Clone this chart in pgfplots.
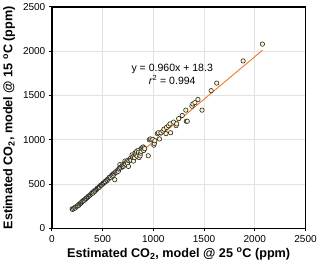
\documentclass[border=0pt]{standalone}
\usepackage{pgfplots}
\pgfplotsset{compat=1.18}
\usepackage{fontspec}
\setmainfont{Liberation Sans}
\definecolor{fitorange}{HTML}{F07828}
\definecolor{markfill}{HTML}{FFF6C6}
\definecolor{gridgray}{HTML}{E2E2E2}
\begin{document}
\begin{tikzpicture}
\begin{axis}[
  scale only axis,
  width=253pt, height=221pt,
  xmin=0, xmax=2500, ymin=0, ymax=2500,
  xtick={0,500,...,2500}, ytick={0,500,...,2500},
  /pgf/number format/assume math mode=true,
  /pgf/number format/set thousands separator={},
  ticklabel style={font=\fontsize{10}{12}\selectfont},
  tick align=outside, tick pos=left,
  major tick length=3pt,
  tick style={black, line width=0.8pt},
  grid=major,
  major grid style={gridgray, line width=0.8pt},
  axis line style={black, line width=1.3pt},
  xlabel={\textbf{Estimated CO\textsubscript{2}, model @ 25 \textsuperscript{o}C (ppm)}},
  ylabel={\textbf{Estimated CO\textsubscript{2}, model @ 15 \textsuperscript{o}C (ppm)}},
  label style={font=\fontsize{12.6}{15}\selectfont},
  xlabel style={yshift=1pt},
  ylabel style={yshift=1pt},
]
\addplot[only marks, mark=*, mark size=2.2pt, mark options={draw=black!85, fill=markfill, line width=0.6pt}] coordinates {
(200,220)(205,215)(215,225)(225,235)(230,232)(240,245)(250,252)(255,258)(265,262)(270,275)
(280,282)(285,285)(290,290)(295,300)(300,305)(310,312)(315,320)(320,318)(330,330)(335,338)
(340,340)(350,350)(355,358)(360,362)(370,370)(375,378)(380,380)(390,392)(395,400)(400,405)
(405,400)(410,412)(420,425)(425,420)(430,432)(440,440)(445,450)(450,455)(460,460)(465,470)
(470,468)(480,485)(485,490)(490,492)(500,500)(505,510)(510,515)(520,520)(525,530)(530,528)
(540,545)(545,540)(550,555)(560,560)(565,575)(570,580)(580,578)(590,600)(595,590)(600,610)
(605,600)(610,620)(615,615)(620,550)(625,630)(630,640)(640,635)(645,650)(650,660)(655,645)
(660,670)(665,680)(670,720)(675,690)(680,685)(690,700)(695,710)(700,720)(705,700)(710,715)
(715,730)(720,760)(725,740)(730,725)(740,750)(745,735)(750,770)(755,700)(760,765)(770,780)
(775,790)(780,770)(790,830)(795,800)(800,810)(805,760)(810,820)(815,800)(820,850)(825,830)
(830,840)(835,870)(840,815)(850,880)(855,860)(860,800)(870,820)(875,850)(880,870)(885,910)
(890,900)(900,920)(905,880)(910,910)(915,900)(950,820)(960,1000)(970,1010)(985,1000)(995,1005)
(1005,940)(1010,960)(1015,990)(1040,1070)(1050,1080)(1060,1010)(1075,1080)(1095,1100)(1105,1120)(1125,1070)
(1130,1140)(1150,1160)(1165,1180)(1170,1080)(1200,1200)(1225,1160)(1230,1180)(1250,1240)(1285,1275)(1320,1335)
(1325,1210)(1335,1210)(1380,1380)(1390,1405)(1410,1420)(1440,1455)(1480,1335)(1570,1555)(1625,1640)(1885,1890)
(2075,2080)
};
\addplot[fitorange, line width=0.9pt] coordinates {(200,210.3)(2075,2010.3)};
\node[font=\fontsize{10.5}{12.5}\selectfont, align=center] at (axis cs:1186,1740) {y = 0.960x + 18.3\\\textit{r}\textsuperscript{2} = 0.994};
\end{axis}
\end{tikzpicture}
\end{document}
